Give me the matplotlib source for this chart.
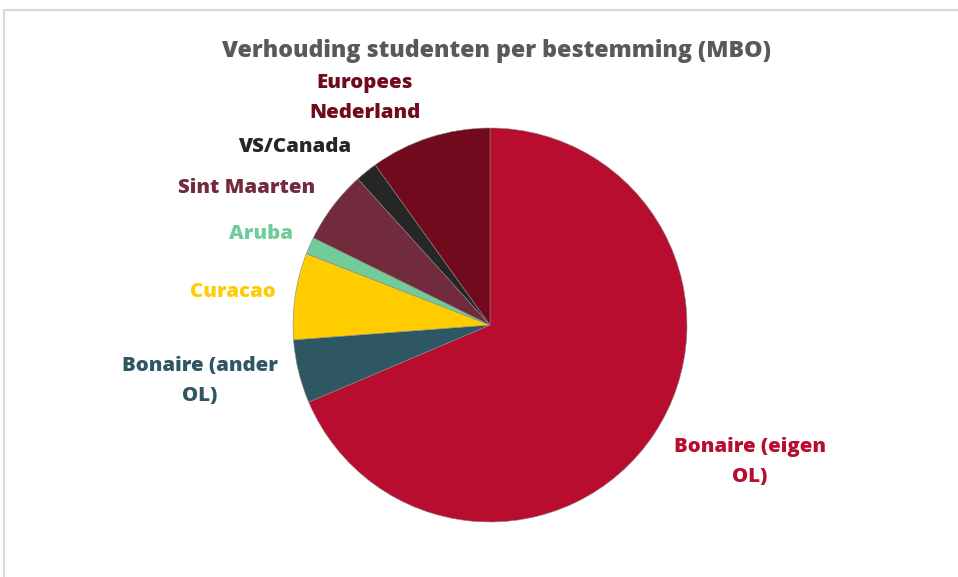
import matplotlib.pyplot as plt
from matplotlib.lines import Line2D

# data (share in %)
labels = ["Bonaire (eigen\nOL)", "Bonaire (ander\nOL)", "Curacao", "Aruba",
          "Sint Maarten", "VS/Canada", "Europees\nNederland"]
values = [68.6, 5.2, 7.1, 1.4, 6.0, 1.8, 9.9]
colors = ["#B80D2F", "#2F5663", "#FFCC00", "#72CC9A", "#722B3D", "#262626", "#720A1E"]

# label centres in pixels (Excel places them by hand-ish)
label_pos = [(750, 462), (200, 381), (233, 292), (261, 234),
             (247, 188), (295, 147), (365, 98)]

W, H = 958, 577
plt.rcParams['font.family'] = ['Open Sans', 'DejaVu Sans']
fig = plt.figure(figsize=(W / 100, H / 100), dpi=100)

# chart border (light gray, runs off right/bottom)
fig.add_artist(Line2D([4 / W, 1], [1 - 9.5 / H] * 2, color="#D9D9D9", lw=1.5))
fig.add_artist(Line2D([4.3 / W] * 2, [0, 1 - 9.5 / H], color="#D9D9D9", lw=1.5))

# pie: centre (490, 325), radius 197 px
r = 197
ax = fig.add_axes([(490 - r) / W, (H - 325 - r) / H, 2 * r / W, 2 * r / H])
ax.pie(values, colors=colors, startangle=90, counterclock=False,
       wedgeprops=dict(linewidth=0.4, edgecolor="#888888"))
ax.set_xlim(-1, 1)
ax.set_ylim(-1, 1)
ax.set_aspect("equal")
ax.axis("off")

for lab, (x, y), c in zip(labels, label_pos, colors):
    fig.text(x / W, 1 - y / H, lab, ha="center", va="center", color=c,
             fontsize=14.7, fontweight="heavy", linespacing=1.62)

fig.text(497 / W, 1 - 51 / H, "Verhouding studenten per bestemming (MBO)",
         ha="center", va="center", color="#595959", fontsize=16.7, fontweight="heavy")

plt.savefig("out.png", dpi=100)
